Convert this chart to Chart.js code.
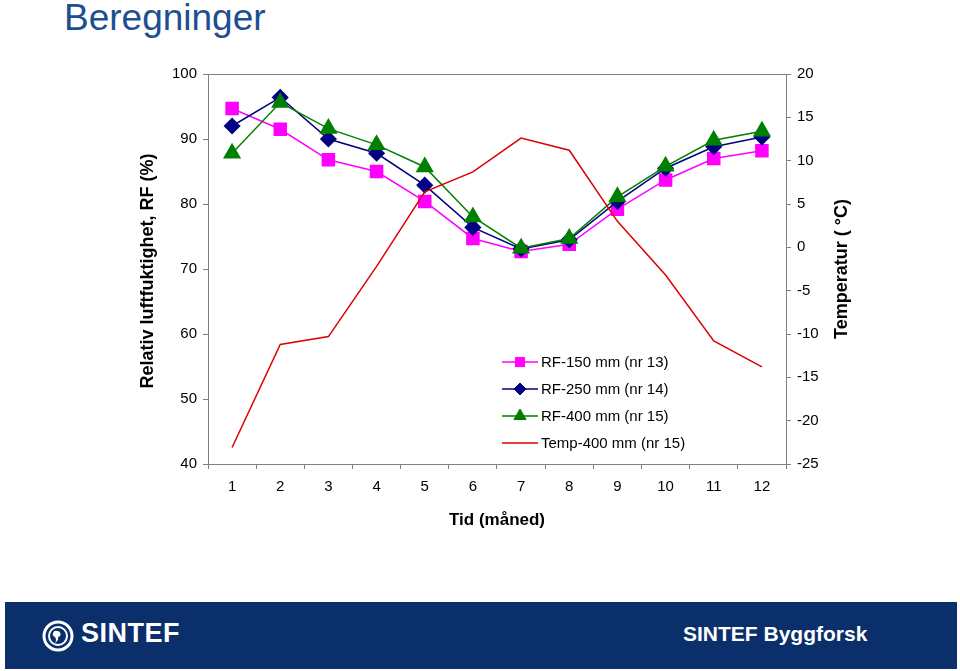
<!DOCTYPE html>
<html>
<head>
<meta charset="utf-8">
<script src="https://cdn.jsdelivr.net/npm/chart.js@4/dist/chart.umd.min.js"></script>
<style>
  html, body { margin:0; padding:0; background:#fff; width:960px; height:671px; overflow:hidden; font-family:"Liberation Sans", Arial, sans-serif; }
  #title { position:absolute; left:64px; top:-3px; font-size:37px; line-height:42px; color:#1d4f91; white-space:nowrap; }
  #wrap { position:absolute; left:0; top:0; width:960px; height:560px; }
  #footer { position:absolute; left:5px; top:602px; width:952px; height:67px; background:#0b2f6a; }
  #brand { position:absolute; left:76px; top:16px; color:#fff; font-weight:bold; font-size:27px; letter-spacing:0.5px; }
  #dept { position:absolute; left:678px; top:20px; color:#fff; font-weight:bold; font-size:21px; white-space:nowrap; }
  #logo { position:absolute; left:37px; top:17px; }
</style>
</head>
<body>
<div id="title">Beregninger</div>
<div id="wrap"><canvas id="c" width="960" height="560"></canvas></div>
<div id="footer">
  <svg id="logo" width="32" height="34" viewBox="0 0 32 34">
    <circle cx="16" cy="17" r="14" fill="none" stroke="#fff" stroke-width="3"/>
    <circle cx="16" cy="17" r="9" fill="none" stroke="#fff" stroke-width="2"/>
    <path d="M15 12 a3 3 0 1 1 1 6 q1 3 -3 6 q2 -3 0 -6 a3 3 0 0 1 2 -6z" fill="#fff"/>
  </svg>
  <div id="brand">SINTEF</div>
  <div id="dept">SINTEF Byggforsk</div>
</div>
<script>
const months = ['1','2','3','4','5','6','7','8','9','10','11','12'];
const rf150 = [94.7, 91.5, 86.8, 85.0, 80.4, 74.7, 72.7, 73.8, 79.2, 83.7, 87.0, 88.2];
const rf250 = [92.0, 96.4, 90.0, 87.8, 82.9, 76.4, 73.1, 74.5, 80.4, 85.5, 88.8, 90.3];
const rf400 = [87.8, 95.6, 91.6, 89.1, 85.7, 78.0, 73.2, 74.7, 81.1, 85.8, 89.8, 91.2];
const temp400 = [-23.1, -11.2, -10.3, -2.2, 6.4, 8.7, 12.6, 11.2, 3.0, -3.2, -10.8, -13.8];
const seriesNames = ['RF-150 mm (nr 13)', 'RF-250 mm (nr 14)', 'RF-400 mm (nr 15)', 'Temp-400 mm (nr 15)'];
const leftTitle = 'Relativ luftfuktighet, RF (%)';
const rightTitle = 'Temperatur ( \u00B0C)';
const xTitle = 'Tid (m\u00E5ned)';

const FONT = '"Liberation Sans", Arial, sans-serif';
const AXIS = '#808080';

const frameAndTitles = {
  id: 'frameAndTitles',
  afterDraw(chart) {
    const ctx = chart.ctx, a = chart.chartArea;
    ctx.save();
    ctx.strokeStyle = AXIS; ctx.lineWidth = 1;
    ctx.beginPath();
    ctx.moveTo(a.left, a.top + 0.5); ctx.lineTo(a.right, a.top + 0.5);
    ctx.stroke();
    ctx.fillStyle = '#000';
    ctx.font = 'bold 18px ' + FONT;
    ctx.textAlign = 'center'; ctx.textBaseline = 'middle';
    ctx.save(); ctx.translate(148, 271); ctx.rotate(-Math.PI / 2); ctx.fillText(leftTitle, 0, 0); ctx.restore();
    ctx.save(); ctx.translate(842, 269); ctx.rotate(-Math.PI / 2); ctx.fillText(rightTitle, 0, 0); ctx.restore();
    ctx.font = 'bold 17px ' + FONT;
    ctx.fillText(xTitle, (a.left + a.right) / 2, 520);
    ctx.font = '15px ' + FONT;
    ctx.textAlign = 'left';
    const rows = [362, 389, 416, 443];
    chart.data.datasets.forEach((ds, i) => {
      const y = rows[i];
      ctx.strokeStyle = ds.borderColor; ctx.lineWidth = 1.5;
      ctx.beginPath(); ctx.moveTo(502, y); ctx.lineTo(538, y); ctx.stroke();
      if (ds.pointStyle && ds.pointRadius > 0) {
        ctx.fillStyle = ds.backgroundColor; ctx.strokeStyle = ds.borderColor; ctx.lineWidth = 1;
        Chart.helpers.drawPoint(ctx, { pointStyle: ds.pointStyle, radius: ds.legendRadius, borderWidth: 1, rotation: 0 }, 520, y);
      }
      ctx.fillStyle = '#000';
      ctx.fillText(ds.label, 541, y + 1);
    });
    ctx.restore();
  }
};

new Chart(document.getElementById('c'), {
  type: 'line',
  data: {
    labels: months,
    datasets: [
      { label: seriesNames[0], data: rf150, yAxisID: 'y', borderColor: '#ff00ff', backgroundColor: '#ff00ff', borderWidth: 1.5, pointStyle: 'rect', pointRadius: 8.5, legendRadius: 6.5, order: 3 },
      { label: seriesNames[1], data: rf250, yAxisID: 'y', borderColor: '#000080', backgroundColor: '#000080', borderWidth: 1.5, pointStyle: 'rectRot', pointRadius: 7.5, legendRadius: 6, order: 2 },
      { label: seriesNames[2], data: rf400, yAxisID: 'y', borderColor: '#008000', backgroundColor: '#008000', borderWidth: 1.5, pointStyle: 'triangle', pointRadius: 9, legendRadius: 7, order: 1 },
      { label: seriesNames[3], data: temp400, yAxisID: 'y2', borderColor: '#dd0000', backgroundColor: '#dd0000', borderWidth: 1.5, pointRadius: 0, legendRadius: 0, order: 0 }
    ]
  },
  options: {
    responsive: false,
    animation: false,
    devicePixelRatio: 1,
    layout: { padding: { top: 74, left: 0, right: 0, bottom: 0 } },
    plugins: { legend: { display: false }, tooltip: { enabled: false } },
    elements: { line: { tension: 0 }, point: { borderWidth: 1 } },
    scales: {
      x: {
        type: 'category',
        offset: true,
        grid: { offset: true, drawOnChartArea: false, drawTicks: true, tickLength: 5, color: AXIS },
        border: { color: AXIS, width: 1 },
        ticks: { color: '#000', font: { family: FONT, size: 15 }, padding: 9, maxRotation: 0, autoSkip: false },
        afterFit(s) { s.height = 96; }
      },
      y: {
        position: 'left',
        min: 40, max: 100,
        ticks: { stepSize: 10, color: '#000', font: { family: FONT, size: 15 }, padding: 6 },
        grid: { drawOnChartArea: false, drawTicks: true, tickLength: 5, color: AXIS },
        border: { color: AXIS, width: 1 },
        afterFit(s) { s.width = 208; }
      },
      y2: {
        position: 'right',
        min: -25, max: 20,
        ticks: { stepSize: 5, color: '#000', font: { family: FONT, size: 15 }, padding: 6 },
        grid: { drawOnChartArea: false, drawTicks: true, tickLength: 5, color: AXIS },
        border: { color: AXIS, width: 1 },
        afterFit(s) { s.width = 174; }
      }
    }
  },
  plugins: [frameAndTitles]
});
</script>
</body>
</html>
